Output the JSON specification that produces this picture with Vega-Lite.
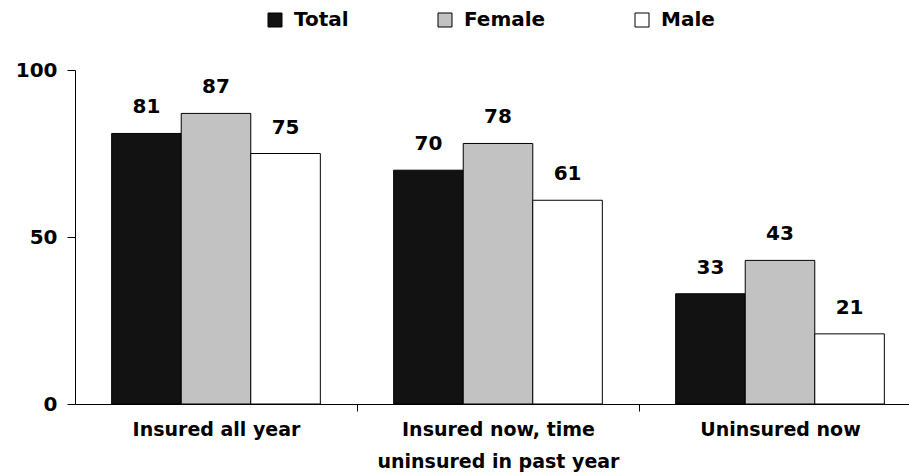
{
  "$schema": "https://vega.github.io/schema/vega-lite/v6.json",
  "width": 834,
  "height": 334,
  "autosize": {"type": "none"},
  "padding": {"left": 75, "top": 70, "right": 0, "bottom": 70},
  "background": "white",
  "config": {"view": {"stroke": null}, "axis": {"grid": false}},
  "data": {
    "values": [
      {"category": "Insured all year", "group": "Total", "pct": 81},
      {"category": "Insured all year", "group": "Female", "pct": 87},
      {"category": "Insured all year", "group": "Male", "pct": 75},
      {"category": "Insured now, time uninsured in past year", "group": "Total", "pct": 70},
      {"category": "Insured now, time uninsured in past year", "group": "Female", "pct": 78},
      {"category": "Insured now, time uninsured in past year", "group": "Male", "pct": 61},
      {"category": "Uninsured now", "group": "Total", "pct": 33},
      {"category": "Uninsured now", "group": "Female", "pct": 43},
      {"category": "Uninsured now", "group": "Male", "pct": 21}
    ]
  },
  "encoding": {
    "x": {
      "field": "category",
      "type": "nominal",
      "sort": ["Insured all year", "Insured now, time uninsured in past year", "Uninsured now"],
      "scale": {"range": [0, 846], "paddingInner": 0.26, "paddingOuter": 0.13},
      "axis": {
        "title": null,
        "labelAngle": 0,
        "tickOffset": 141,
        "labelOffset": -141,
        "tickSize": 7,
        "tickColor": "#000",
        "domainColor": "#000",
        "labelFont": "DejaVu Sans",
        "labelFontWeight": "bold",
        "labelFontSize": 19,
        "labelColor": "#000",
        "labelBaseline": "top",
        "labelPadding": 9,
        "labelLineHeight": 32,
        "labelLimit": 400,
        "labelOverlap": false,
        "labelExpr": "datum.value == 'Insured now, time uninsured in past year' ? ['Insured now, time', 'uninsured in past year'] : datum.value"
      }
    },
    "xOffset": {
      "field": "group",
      "type": "nominal",
      "sort": ["Total", "Female", "Male"],
      "scale": {"paddingInner": 0, "paddingOuter": 0}
    },
    "y": {
      "field": "pct",
      "type": "quantitative",
      "scale": {"domain": [0, 100]},
      "axis": {
        "title": null,
        "values": [0, 50, 100],
        "tickSize": 8,
        "tickColor": "#000",
        "domainColor": "#000",
        "labelPadding": 10,
        "labelFont": "DejaVu Sans",
        "labelFontWeight": "bold",
        "labelFontSize": 20,
        "labelColor": "#000"
      }
    }
  },
  "layer": [
    {
      "mark": {"type": "bar", "stroke": "#000", "strokeWidth": 1},
      "encoding": {
        "fill": {
          "field": "group",
          "type": "nominal",
          "scale": {"domain": ["Total", "Female", "Male"], "range": ["#121212", "#c2c2c2", "#ffffff"]},
          "legend": {
            "orient": "none",
            "legendX": 190,
            "legendY": -60,
            "direction": "horizontal",
            "title": null,
            "symbolType": "square",
            "symbolSize": 196,
            "symbolStrokeColor": "#000",
            "symbolStrokeWidth": 1,
            "labelFont": "DejaVu Sans",
            "labelFontWeight": "bold",
            "labelFontSize": 20,
            "labelColor": "#000",
            "labelOffset": 9,
            "columnPadding": 86,
            "padding": 0
          }
        }
      }
    },
    {
      "mark": {"type": "text", "dy": -20, "baseline": "alphabetic", "font": "DejaVu Sans", "fontWeight": "bold", "fontSize": 20, "color": "#000"},
      "encoding": {"text": {"field": "pct", "type": "quantitative"}}
    }
  ]
}
